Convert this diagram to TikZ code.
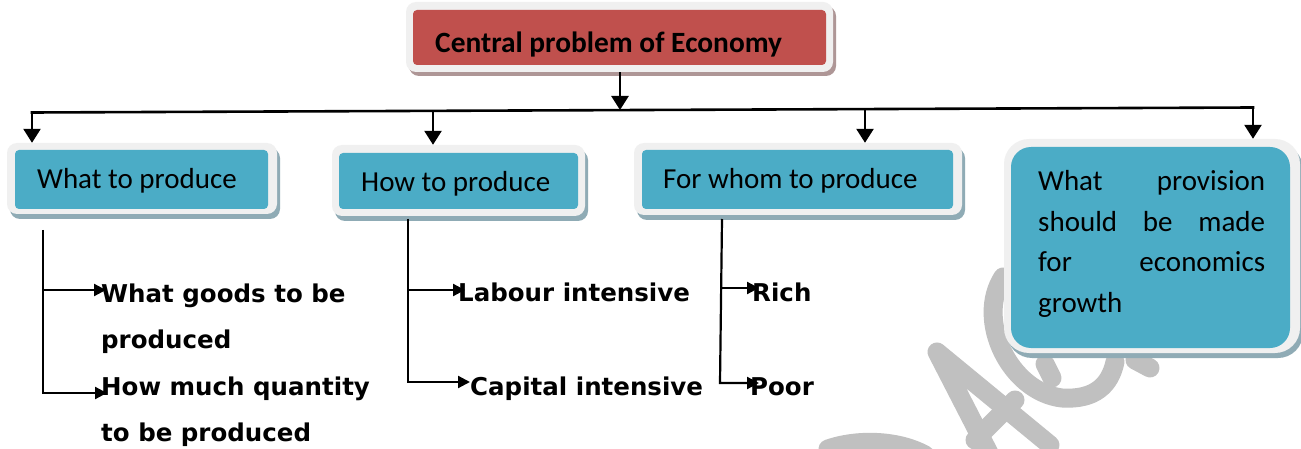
\documentclass[tikz,border=0pt]{standalone}
\usepackage{fontspec}
\setmainfont{Carlito}
\newfontfamily\lblfont{DejaVu Sans}
\usetikzlibrary{arrows.meta,shadows}
\definecolor{boxblue}{HTML}{4BACC6}
\definecolor{boxred}{HTML}{C0504D}
\definecolor{framegrey}{HTML}{F0F0F0}
\definecolor{shadowb}{HTML}{8FABB5}
\definecolor{shadowr}{HTML}{AE9696}
\definecolor{wmgrey}{HTML}{C0C0C0}
\begin{document}
\begin{tikzpicture}[x=1pt,y=-1pt,
  conn/.style={line width=2.6pt,black},
  bigarr/.style={conn,-{Triangle[length=14pt,width=17pt]}},
  smallarr/.style={line width=2.2pt,black,-{Triangle[length=12pt,width=12pt]}},
  frameb/.style={rectangle,fill=framegrey,inner sep=0pt,rounded corners=10pt,
    drop shadow={shadow xshift=3pt,shadow yshift=-5pt,fill=shadowb,opacity=1}},
  framer/.style={rectangle,fill=framegrey,inner sep=0pt,rounded corners=10pt,
    drop shadow={shadow xshift=3pt,shadow yshift=-4pt,fill=shadowr,opacity=1}},
  innerb/.style={rectangle,fill=boxblue,inner sep=0pt,rounded corners=4pt},
  innerr/.style={rectangle,fill=boxred,inner sep=0pt,rounded corners=4pt},
  boxtext/.style={anchor=base west,inner sep=0pt,font=\fontsize{29}{35}\selectfont},
  lbl/.style={anchor=base west,inner sep=0pt,font=\lblfont\bfseries\fontsize{24.5}{46.5}\selectfont},
  wm/.style={wmgrey,line width=19pt,line cap=round,line join=round}
]
\useasboundingbox (0,0) rectangle (1301,449);
\fill[white] (0,0) rectangle (1301,449);
% watermark
\draw[wm] (828,449) .. controls (860,438) and (900,441) .. (925,455);
\draw[wm] (990,455) -- (937,352) -- (1050,445);
\draw[wm] (975,440) -- (1015,400);
\draw[wm] (1003,277) .. controls (975,320) and (1010,392) .. (1062,398) .. controls (1095,400) and (1110,385) .. (1115,362);
\draw[wm] (1045,364) -- (1052,378);
\draw[wm] (1135,360) -- (1150,368);
% central box
\node[framer,minimum width=427pt,minimum height=70pt] (f0) at (619.5,37) {};
\node[innerr,minimum width=413pt,minimum height=55pt] (i0) at (619.5,37.5) {};
\node[boxtext,font=\bfseries\fontsize{29.4}{35}\selectfont] (c0) at (435,53) {Central problem of Economy};
% blue boxes
\node[frameb,minimum width=270pt,minimum height=71pt] (f1) at (142,178.5) {};
\node[innerb,minimum width=253pt,minimum height=59pt] (i1) at (141.5,179.5) {};
\node[boxtext] (l1) at (37,189) {What to produce};
\node[frameb,minimum width=253pt,minimum height=71pt] (f2) at (458.5,180.5) {};
\node[innerb,minimum width=239pt,minimum height=56pt] (i2) at (458.5,181) {};
\node[boxtext] (l2) at (361,192) {How to produce};
\node[frameb,minimum width=328pt,minimum height=72pt] (f3) at (798,179) {};
\node[innerb,minimum width=311pt,minimum height=59pt] (i3) at (797.5,179.5) {};
\node[boxtext] (l3) at (663,189) {For whom to produce};
\node[frameb,rounded corners=25pt,minimum width=296pt,minimum height=214pt] (f4) at (1152,246) {};
\node[innerb,rounded corners=20pt,minimum width=279pt,minimum height=201pt] (i4) at (1150.5,247.5) {};
\node[boxtext,font=\fontsize{29}{40.5}\selectfont] (l4) at (1038,191) {\begin{tabular}[t]{@{}l@{}}\hbox to 227pt{What\hfill provision}\\
\hbox to 227pt{should\hfill be\hfill made}\\
\hbox to 227pt{for\hfill economics}\\
\hbox to 227pt{growth\hfill}\end{tabular}};
% top connectors
\coordinate (j0) at (620,110);
\draw[bigarr] (f0.south -| j0) -- (j0);
\coordinate (hL) at (32,112.5);
\coordinate (h2) at (433,110.9);
\coordinate (h3) at (865,109.1);
\coordinate (hR) at (1253,107.5);
\draw[conn,line cap=rect] (hL) -- (hR);
\draw[bigarr] (hL) -- (hL |- f1.north);
\draw[bigarr] (h2) -- (h2 |- f2.north);
\draw[bigarr] (h3) -- (h3 |- f3.north);
\draw[bigarr] (hR) -- (hR |- f4.north);
% sub items
\node[lbl] (t11) at (101,302) {\begin{tabular}[t]{@{}l@{}}What goods to be\\produced\end{tabular}};
\node[lbl] (t12) at (101,395) {\begin{tabular}[t]{@{}l@{}}How much quantity\\to be produced\end{tabular}};
\node[lbl] (t21) at (458,301) {Labour intensive};
\node[lbl] (t22) at (470,395) {Capital intensive};
\node[lbl] (t31) at (752,301) {Rich};
\node[lbl] (t32) at (750,395) {Poor};
% lower connectors
\coordinate (v1t) at (43,230);
\coordinate (v1m) at (43,290);
\coordinate (v1b) at (43,393);
\coordinate (e11) at (106,290);
\coordinate (e12) at (107,393);
\draw[smallarr] (v1t) -- (v1b) -- (e12);
\draw[smallarr] (v1m) -- (e11);
\coordinate (v2t) at (408,219);
\coordinate (v2m) at (408,290);
\coordinate (v2b) at (408,382);
\coordinate (e21) at (465,290);
\coordinate (e22) at (470,382);
\draw[smallarr] (v2t) -- (v2b) -- (e22);
\draw[smallarr] (v2m) -- (e21);
\coordinate (v3t) at (722,219);
\coordinate (v3m) at (721.4,288);
\coordinate (v3b) at (720,383);
\coordinate (e31) at (759,288);
\coordinate (e32) at (759,383);
\draw[smallarr] (v3t) -- (v3b) -- (e32);
\draw[smallarr] (v3m) -- (e31);
\end{tikzpicture}
\end{document}
